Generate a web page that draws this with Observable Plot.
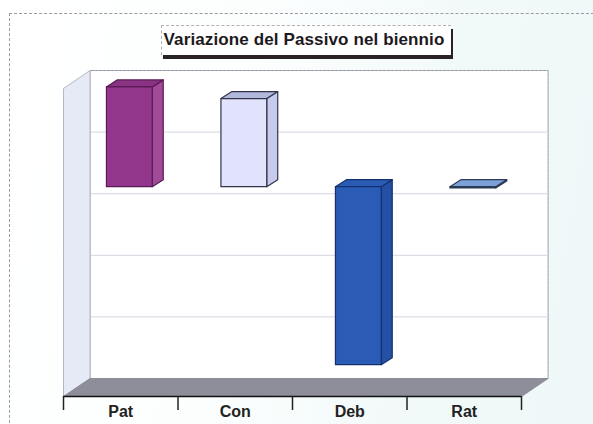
<!DOCTYPE html>
<html><head><meta charset="utf-8">
<script src="https://cdn.jsdelivr.net/npm/d3@7"></script>
<script src="https://cdn.jsdelivr.net/npm/@observablehq/plot@0.6"></script>
<style>
html,body{margin:0;padding:0;width:593px;height:424px;overflow:hidden;background:#fff}
#wrap{position:relative;width:593px;height:424px;background:linear-gradient(100deg,#ffffff 0%,#fcfefe 40%,#f2faf9 70%,#eef8f8 100%)}
#wrap svg{position:absolute;left:0;top:0;background:transparent}
#frame{position:absolute;left:9px;top:13px;width:600px;height:430px;border:1px dashed #9a9aa0;box-sizing:border-box}
#title{position:absolute;left:161px;top:25px;width:290px;height:30px;box-sizing:border-box;padding-right:5px;background:#fff;border:1px dashed #b0b0b0;border-right:0;border-bottom:0;box-shadow:2px 4px 0 #2a2225;font:bold 17px "Liberation Sans",Arial,sans-serif;color:#1c1a20;text-align:center;line-height:28px;letter-spacing:.12px;white-space:nowrap}
</style></head><body>
<div id="wrap"><div id="frame"></div><div id="title">Variazione del Passivo nel biennio</div></div>
<script>
const categories = ["Pat","Con","Deb","Rat"];
const values = [1.62, 1.43, -2.89, -0.02];
const frontColors = ["#93378c","#e0e3fb","#2a5cb5","#7ea0d8"];
const sideColors  = ["#a04a98","#c6cbec","#2451a6","#7ea0d8"];
const topColors   = ["#8a3384","#b0b9dc","#2a5cb5","#7ea0d8"];
const edgeColors  = ["#5a1a55","#33334a","#16306e","#2b3a55"];
const gridValues = [-3,-2,-1,0,1,2];
const tickPositions = [0,1,2,3,4];

// layout constants in data units
const wallDx = 0.232, wallDy = 0.292;
const barPad = 0.375, barW = 0.4, barDx = 0.096, barDy = 0.114, barLift = 0.406;
const [yMin, yMax] = d3.extent(gridValues);
const xMax = categories.length;

const poly = (pts, o) => Plot.line([...pts, pts[0]].map(([x,y]) => ({x,y})), {x:"x", y:"y", curve:"linear", strokeLinejoin:"round", ...o});

const barMarks = categories.flatMap((c,i) => {
  const v = values[i];
  const l = i + barPad, r = l + barW;
  const b = barLift + Math.min(v,0), t = barLift + Math.max(v,0);
  const stroke = edgeColors[i], strokeWidth = 1.2;
  return [
    poly([[r,b],[r+barDx,b+barDy],[r+barDx,t+barDy],[r,t]], {fill:sideColors[i], stroke, strokeWidth}),
    poly([[l,t],[l+barDx,t+barDy],[r+barDx,t+barDy],[r,t]], {fill:topColors[i], stroke, strokeWidth}),
    poly([[l,b],[r,b],[r,t],[l,t]], {fill:frontColors[i], stroke, strokeWidth})
  ];
});

const chart = Plot.plot({
  width:593, height:424,
  marginLeft:0, marginRight:0, marginTop:0, marginBottom:0,
  style:{background:"transparent"},
  x:{type:"linear", domain:[-63/114.5,(593-63)/114.5], range:[0,593], axis:null},
  y:{type:"linear", domain:[-3-28/61.6,2+88/61.6], range:[424,0], axis:null},
  marks:[
    // back wall
    poly([[wallDx,yMin+wallDy],[xMax+wallDx,yMin+wallDy],[xMax+wallDx,yMax+wallDy],[wallDx,yMax+wallDy]],
         {fill:"#fff", stroke:"#9a9aa6", strokeWidth:1, strokeDasharray:"3,1"}),
    // gridlines on the back wall
    ...gridValues.slice(1,-1).map(g => Plot.line([{x:wallDx,y:g+wallDy},{x:xMax+wallDx,y:g+wallDy}], {x:"x",y:"y",stroke:"#d4d6e0",strokeWidth:1})),
    // side wall
    poly([[0,yMin],[0,yMax],[wallDx,yMax+wallDy],[wallDx,yMin+wallDy]], {fill:"#e6e9f6", stroke:"#b4b6c4", strokeWidth:1}),
    // floor
    poly([[0,yMin],[xMax,yMin],[xMax+wallDx,yMin+wallDy],[wallDx,yMin+wallDy]], {fill:"#8e8e9a", stroke:"#8e8e9a", strokeWidth:1}),
    ...barMarks,
    // category axis
    Plot.ruleY([yMin], {x1:0, x2:xMax, stroke:"#111", strokeWidth:1.5}),
    Plot.ruleX(tickPositions, {x:d=>d, y1:yMin, y2:yMin-14/61.6, stroke:"#222", strokeWidth:1.5}),
    Plot.text(categories, {x:(d,i)=>i+0.5, y:yMin, dy:15, text:d=>d, fontFamily:"Liberation Sans, Arial, sans-serif", fontSize:16, fontWeight:"bold", fill:"#222"})
  ]
});
document.getElementById("wrap").insertBefore(chart, document.getElementById("title"));
</script>
</body></html>
